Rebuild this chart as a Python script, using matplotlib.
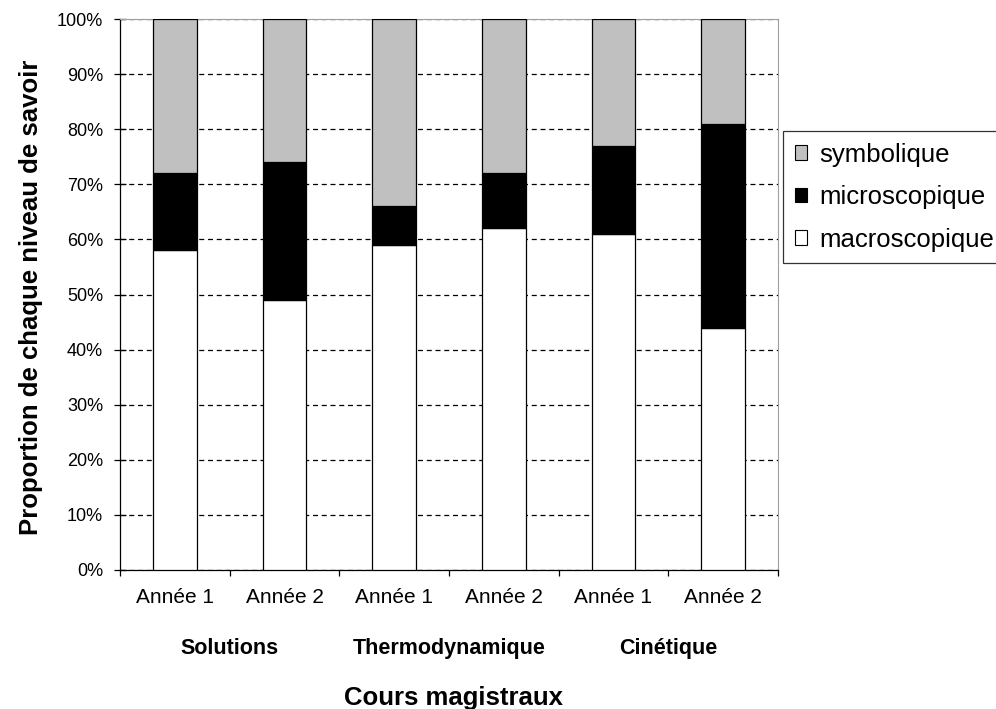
import matplotlib.pyplot as plt
from matplotlib.patches import Patch
from matplotlib.ticker import FuncFormatter, FixedLocator
from matplotlib.transforms import blended_transform_factory


# ----------------------------
# Data
# ----------------------------

annees = ["Année 1", "Année 2", "Année 1", "Année 2", "Année 1", "Année 2"]
cours = ["Solutions", "Thermodynamique", "Cinétique"]

macroscopique = [58, 49, 59, 62, 61, 44]
microscopique = [14, 25, 7, 10, 16, 37]
symbolique = [28, 26, 34, 28, 23, 19]

FONT = ["Liberation Sans", "DejaVu Sans"]
plt.rcParams["font.family"] = FONT

W, H = 996, 709


def fy(py):
    # pixel row (from top) -> figure fraction
    return 1 - py / H


# ----------------------------
# Figure
# ----------------------------

fig = plt.figure(figsize=(W / 100, H / 100), dpi=100)
ax = fig.add_axes([120 / W, fy(570), (778 - 120) / W, (570 - 19) / H])

x = [i + 0.5 for i in range(len(annees))]
width = 0.4
edge = dict(edgecolor="black", linewidth=0.9, zorder=3)

bottom_micro = macroscopique
bottom_sym = [m + n for m, n in zip(macroscopique, microscopique)]

ax.bar(x, macroscopique, width, color="white", **edge)
ax.bar(x, microscopique, width, bottom=bottom_micro, color="black", **edge)
ax.bar(x, symbolique, width, bottom=bottom_sym, color="#c0c0c0", **edge)

ax.set_xlim(0, len(annees))
ax.set_ylim(0, 100)

# y axis
ax.set_yticks(range(0, 101, 10))
ax.yaxis.set_major_formatter(FuncFormatter(lambda v, _: f"{int(v)}%"))
ax.tick_params(axis="y", direction="inout", length=8.5, width=0.9,
               labelsize=13, pad=8)
ax.yaxis.grid(True, color="black", linestyle=(0, (4, 3)), linewidth=0.9, zorder=0)
ax.set_axisbelow(True)

# x axis: ticks at boundaries, labels at centres
ax.xaxis.set_major_locator(FixedLocator(range(len(annees) + 1)))
ax.xaxis.set_minor_locator(FixedLocator(x))
ax.set_xticklabels([""] * (len(annees) + 1))
ax.set_xticklabels(annees, minor=True)
ax.tick_params(axis="x", which="major", direction="out", length=4, width=0.9)
ax.tick_params(axis="x", which="minor", length=0, labelsize=15, pad=13)

for side in ["top", "right"]:
    ax.spines[side].set_color("#a0a0a0")
for side in ["left", "bottom"]:
    ax.spines[side].set_color("black")
    ax.spines[side].set_linewidth(0.9)

# group labels
trans = blended_transform_factory(ax.transData, fig.transFigure)
for i, nom in enumerate(cours):
    ax.text(2 * i + 1, fy(654), nom, transform=trans, ha="center",
            va="baseline", fontsize=15.5, fontweight="bold")

fig.text(453 / W, fy(705), "Cours magistraux", ha="center", va="baseline",
         fontsize=18.5, fontweight="bold")
fig.text(31 / W, fy(297), "Proportion de chaque niveau de savoir",
         ha="center", va="center", rotation=90, fontsize=18.5, fontweight="bold")

# legend (runs off the right edge, as in the original)
handles = [
    Patch(facecolor="#c0c0c0", edgecolor="black", linewidth=0.8, label="symbolique"),
    Patch(facecolor="black", edgecolor="black", linewidth=0.8, label="microscopique"),
    Patch(facecolor="white", edgecolor="black", linewidth=0.8, label="macroscopique"),
]
leg = fig.legend(handles=handles, loc="upper left",
                 bbox_to_anchor=(783 / W, fy(131)),
                 bbox_transform=fig.transFigure,
                 fontsize=18.5, frameon=True, fancybox=False,
                 handlelength=0.5, handleheight=0.5, handletextpad=0.45,
                 labelspacing=0.72, borderpad=0.45, borderaxespad=0)
leg.get_frame().set_edgecolor("black")
leg.get_frame().set_linewidth(0.9)

fig.savefig("out.png", dpi=100)
